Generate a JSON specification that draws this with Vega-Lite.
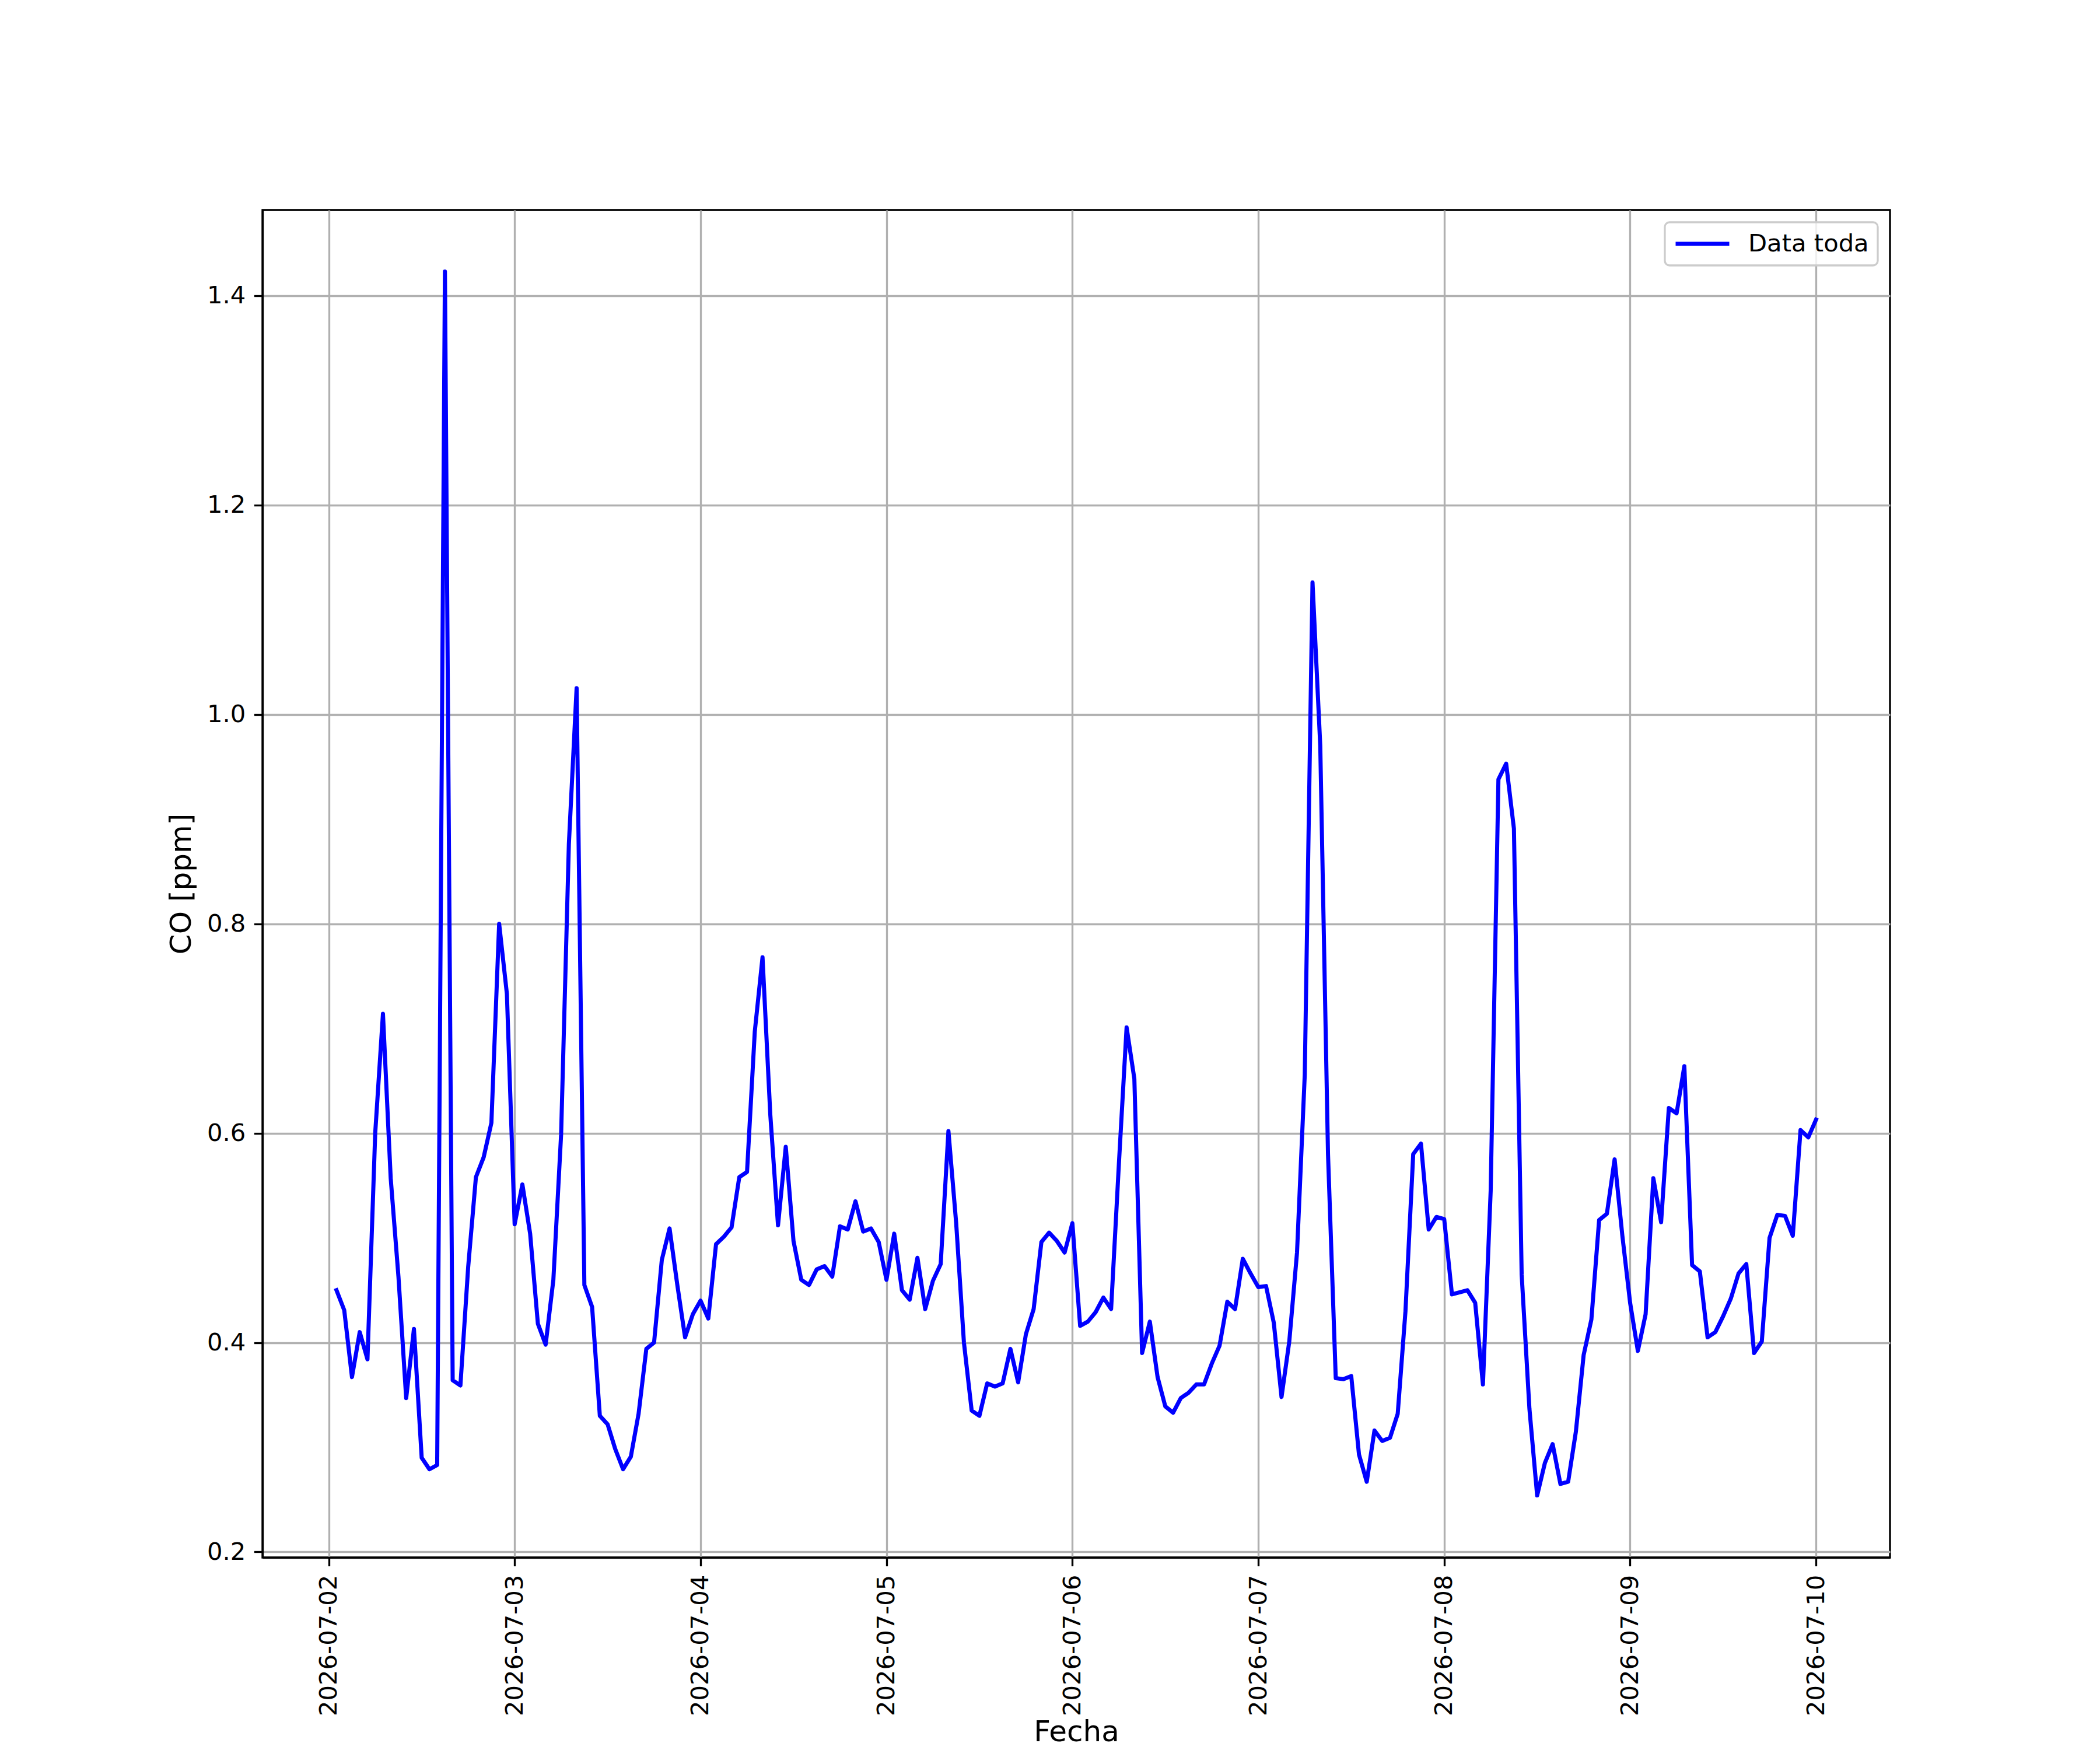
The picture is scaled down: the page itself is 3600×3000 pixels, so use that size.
{
  "$schema": "https://vega.github.io/schema/vega-lite/v6.json",
  "description": "Serie horaria de CO, Data toda",
  "width": 2790,
  "height": 2310,
  "autosize": {"type": "none"},
  "padding": {"left": 450, "top": 360, "right": 360, "bottom": 330},
  "background": "white",
  "config": {
    "font": "DejaVu Sans",
    "view": {"stroke": "black", "strokeWidth": 3.33},
    "axis": {
      "labelFontSize": 41.7,
      "titleFontSize": 50,
      "titleFontWeight": "normal",
      "labelColor": "black",
      "titleColor": "black",
      "tickColor": "black",
      "tickSize": 14.6,
      "tickWidth": 3.33,
      "domainColor": "black",
      "domainWidth": 3.33,
      "gridColor": "#b0b0b0",
      "gridWidth": 3.33,
      "labelPadding": 14.6,
      "labelOverlap": false,
      "labelFlush": false,
      "labelLimit": 0
    },
    "legend": {
      "labelFontSize": 41.7,
      "labelColor": "black",
      "labelLimit": 0,
      "strokeColor": "#cccccc",
      "strokeWidth": 3.3,
      "fillColor": "rgba(255,255,255,0.8)",
      "cornerRadius": 8,
      "padding": 15
    }
  },
  "data": {
    "values": [
      {"t": "2026-07-02T01:00", "co": 0.450},
      {"t": "2026-07-02T02:00", "co": 0.431},
      {"t": "2026-07-02T03:00", "co": 0.367},
      {"t": "2026-07-02T04:00", "co": 0.410},
      {"t": "2026-07-02T05:00", "co": 0.384},
      {"t": "2026-07-02T06:00", "co": 0.600},
      {"t": "2026-07-02T07:00", "co": 0.714},
      {"t": "2026-07-02T08:00", "co": 0.557},
      {"t": "2026-07-02T09:00", "co": 0.463},
      {"t": "2026-07-02T10:00", "co": 0.347},
      {"t": "2026-07-02T11:00", "co": 0.413},
      {"t": "2026-07-02T12:00", "co": 0.290},
      {"t": "2026-07-02T13:00", "co": 0.279},
      {"t": "2026-07-02T14:00", "co": 0.283},
      {"t": "2026-07-02T15:00", "co": 1.423},
      {"t": "2026-07-02T16:00", "co": 0.364},
      {"t": "2026-07-02T17:00", "co": 0.359},
      {"t": "2026-07-02T18:00", "co": 0.472},
      {"t": "2026-07-02T19:00", "co": 0.558},
      {"t": "2026-07-02T20:00", "co": 0.577},
      {"t": "2026-07-02T21:00", "co": 0.610},
      {"t": "2026-07-02T22:00", "co": 0.800},
      {"t": "2026-07-02T23:00", "co": 0.733},
      {"t": "2026-07-03T00:00", "co": 0.513},
      {"t": "2026-07-03T01:00", "co": 0.551},
      {"t": "2026-07-03T02:00", "co": 0.504},
      {"t": "2026-07-03T03:00", "co": 0.418},
      {"t": "2026-07-03T04:00", "co": 0.398},
      {"t": "2026-07-03T05:00", "co": 0.460},
      {"t": "2026-07-03T06:00", "co": 0.599},
      {"t": "2026-07-03T07:00", "co": 0.876},
      {"t": "2026-07-03T08:00", "co": 1.025},
      {"t": "2026-07-03T09:00", "co": 0.455},
      {"t": "2026-07-03T10:00", "co": 0.434},
      {"t": "2026-07-03T11:00", "co": 0.330},
      {"t": "2026-07-03T12:00", "co": 0.322},
      {"t": "2026-07-03T13:00", "co": 0.298},
      {"t": "2026-07-03T14:00", "co": 0.279},
      {"t": "2026-07-03T15:00", "co": 0.291},
      {"t": "2026-07-03T16:00", "co": 0.332},
      {"t": "2026-07-03T17:00", "co": 0.394},
      {"t": "2026-07-03T18:00", "co": 0.400},
      {"t": "2026-07-03T19:00", "co": 0.479},
      {"t": "2026-07-03T20:00", "co": 0.509},
      {"t": "2026-07-03T21:00", "co": 0.455},
      {"t": "2026-07-03T22:00", "co": 0.405},
      {"t": "2026-07-03T23:00", "co": 0.427},
      {"t": "2026-07-04T00:00", "co": 0.440},
      {"t": "2026-07-04T01:00", "co": 0.423},
      {"t": "2026-07-04T02:00", "co": 0.494},
      {"t": "2026-07-04T03:00", "co": 0.501},
      {"t": "2026-07-04T04:00", "co": 0.510},
      {"t": "2026-07-04T05:00", "co": 0.558},
      {"t": "2026-07-04T06:00", "co": 0.563},
      {"t": "2026-07-04T07:00", "co": 0.697},
      {"t": "2026-07-04T08:00", "co": 0.768},
      {"t": "2026-07-04T09:00", "co": 0.618},
      {"t": "2026-07-04T10:00", "co": 0.512},
      {"t": "2026-07-04T11:00", "co": 0.587},
      {"t": "2026-07-04T12:00", "co": 0.497},
      {"t": "2026-07-04T13:00", "co": 0.460},
      {"t": "2026-07-04T14:00", "co": 0.455},
      {"t": "2026-07-04T15:00", "co": 0.470},
      {"t": "2026-07-04T16:00", "co": 0.473},
      {"t": "2026-07-04T17:00", "co": 0.463},
      {"t": "2026-07-04T18:00", "co": 0.511},
      {"t": "2026-07-04T19:00", "co": 0.508},
      {"t": "2026-07-04T20:00", "co": 0.535},
      {"t": "2026-07-04T21:00", "co": 0.506},
      {"t": "2026-07-04T22:00", "co": 0.509},
      {"t": "2026-07-04T23:00", "co": 0.496},
      {"t": "2026-07-05T00:00", "co": 0.460},
      {"t": "2026-07-05T01:00", "co": 0.504},
      {"t": "2026-07-05T02:00", "co": 0.450},
      {"t": "2026-07-05T03:00", "co": 0.441},
      {"t": "2026-07-05T04:00", "co": 0.481},
      {"t": "2026-07-05T05:00", "co": 0.432},
      {"t": "2026-07-05T06:00", "co": 0.459},
      {"t": "2026-07-05T07:00", "co": 0.475},
      {"t": "2026-07-05T08:00", "co": 0.602},
      {"t": "2026-07-05T09:00", "co": 0.514},
      {"t": "2026-07-05T10:00", "co": 0.400},
      {"t": "2026-07-05T11:00", "co": 0.335},
      {"t": "2026-07-05T12:00", "co": 0.330},
      {"t": "2026-07-05T13:00", "co": 0.361},
      {"t": "2026-07-05T14:00", "co": 0.358},
      {"t": "2026-07-05T15:00", "co": 0.361},
      {"t": "2026-07-05T16:00", "co": 0.394},
      {"t": "2026-07-05T17:00", "co": 0.362},
      {"t": "2026-07-05T18:00", "co": 0.408},
      {"t": "2026-07-05T19:00", "co": 0.432},
      {"t": "2026-07-05T20:00", "co": 0.496},
      {"t": "2026-07-05T21:00", "co": 0.505},
      {"t": "2026-07-05T22:00", "co": 0.497},
      {"t": "2026-07-05T23:00", "co": 0.486},
      {"t": "2026-07-06T00:00", "co": 0.514},
      {"t": "2026-07-06T01:00", "co": 0.416},
      {"t": "2026-07-06T02:00", "co": 0.420},
      {"t": "2026-07-06T03:00", "co": 0.429},
      {"t": "2026-07-06T04:00", "co": 0.443},
      {"t": "2026-07-06T05:00", "co": 0.432},
      {"t": "2026-07-06T06:00", "co": 0.570},
      {"t": "2026-07-06T07:00", "co": 0.701},
      {"t": "2026-07-06T08:00", "co": 0.652},
      {"t": "2026-07-06T09:00", "co": 0.390},
      {"t": "2026-07-06T10:00", "co": 0.420},
      {"t": "2026-07-06T11:00", "co": 0.367},
      {"t": "2026-07-06T12:00", "co": 0.339},
      {"t": "2026-07-06T13:00", "co": 0.333},
      {"t": "2026-07-06T14:00", "co": 0.347},
      {"t": "2026-07-06T15:00", "co": 0.352},
      {"t": "2026-07-06T16:00", "co": 0.360},
      {"t": "2026-07-06T17:00", "co": 0.360},
      {"t": "2026-07-06T18:00", "co": 0.380},
      {"t": "2026-07-06T19:00", "co": 0.397},
      {"t": "2026-07-06T20:00", "co": 0.439},
      {"t": "2026-07-06T21:00", "co": 0.432},
      {"t": "2026-07-06T22:00", "co": 0.480},
      {"t": "2026-07-06T23:00", "co": 0.466},
      {"t": "2026-07-07T00:00", "co": 0.453},
      {"t": "2026-07-07T01:00", "co": 0.454},
      {"t": "2026-07-07T02:00", "co": 0.419},
      {"t": "2026-07-07T03:00", "co": 0.348},
      {"t": "2026-07-07T04:00", "co": 0.401},
      {"t": "2026-07-07T05:00", "co": 0.486},
      {"t": "2026-07-07T06:00", "co": 0.656},
      {"t": "2026-07-07T07:00", "co": 1.126},
      {"t": "2026-07-07T08:00", "co": 0.970},
      {"t": "2026-07-07T09:00", "co": 0.580},
      {"t": "2026-07-07T10:00", "co": 0.366},
      {"t": "2026-07-07T11:00", "co": 0.365},
      {"t": "2026-07-07T12:00", "co": 0.368},
      {"t": "2026-07-07T13:00", "co": 0.293},
      {"t": "2026-07-07T14:00", "co": 0.267},
      {"t": "2026-07-07T15:00", "co": 0.316},
      {"t": "2026-07-07T16:00", "co": 0.306},
      {"t": "2026-07-07T17:00", "co": 0.309},
      {"t": "2026-07-07T18:00", "co": 0.332},
      {"t": "2026-07-07T19:00", "co": 0.430},
      {"t": "2026-07-07T20:00", "co": 0.580},
      {"t": "2026-07-07T21:00", "co": 0.590},
      {"t": "2026-07-07T22:00", "co": 0.508},
      {"t": "2026-07-07T23:00", "co": 0.520},
      {"t": "2026-07-08T00:00", "co": 0.518},
      {"t": "2026-07-08T01:00", "co": 0.446},
      {"t": "2026-07-08T02:00", "co": 0.448},
      {"t": "2026-07-08T03:00", "co": 0.450},
      {"t": "2026-07-08T04:00", "co": 0.438},
      {"t": "2026-07-08T05:00", "co": 0.360},
      {"t": "2026-07-08T06:00", "co": 0.545},
      {"t": "2026-07-08T07:00", "co": 0.938},
      {"t": "2026-07-08T08:00", "co": 0.953},
      {"t": "2026-07-08T09:00", "co": 0.891},
      {"t": "2026-07-08T10:00", "co": 0.465},
      {"t": "2026-07-08T11:00", "co": 0.337},
      {"t": "2026-07-08T12:00", "co": 0.254},
      {"t": "2026-07-08T13:00", "co": 0.285},
      {"t": "2026-07-08T14:00", "co": 0.303},
      {"t": "2026-07-08T15:00", "co": 0.265},
      {"t": "2026-07-08T16:00", "co": 0.267},
      {"t": "2026-07-08T17:00", "co": 0.315},
      {"t": "2026-07-08T18:00", "co": 0.388},
      {"t": "2026-07-08T19:00", "co": 0.422},
      {"t": "2026-07-08T20:00", "co": 0.517},
      {"t": "2026-07-08T21:00", "co": 0.523},
      {"t": "2026-07-08T22:00", "co": 0.575},
      {"t": "2026-07-08T23:00", "co": 0.502},
      {"t": "2026-07-09T00:00", "co": 0.438},
      {"t": "2026-07-09T01:00", "co": 0.392},
      {"t": "2026-07-09T02:00", "co": 0.427},
      {"t": "2026-07-09T03:00", "co": 0.557},
      {"t": "2026-07-09T04:00", "co": 0.515},
      {"t": "2026-07-09T05:00", "co": 0.624},
      {"t": "2026-07-09T06:00", "co": 0.619},
      {"t": "2026-07-09T07:00", "co": 0.664},
      {"t": "2026-07-09T08:00", "co": 0.474},
      {"t": "2026-07-09T09:00", "co": 0.468},
      {"t": "2026-07-09T10:00", "co": 0.405},
      {"t": "2026-07-09T11:00", "co": 0.410},
      {"t": "2026-07-09T12:00", "co": 0.425},
      {"t": "2026-07-09T13:00", "co": 0.442},
      {"t": "2026-07-09T14:00", "co": 0.466},
      {"t": "2026-07-09T15:00", "co": 0.475},
      {"t": "2026-07-09T16:00", "co": 0.390},
      {"t": "2026-07-09T17:00", "co": 0.401},
      {"t": "2026-07-09T18:00", "co": 0.500},
      {"t": "2026-07-09T19:00", "co": 0.522},
      {"t": "2026-07-09T20:00", "co": 0.521},
      {"t": "2026-07-09T21:00", "co": 0.502},
      {"t": "2026-07-09T22:00", "co": 0.603},
      {"t": "2026-07-09T23:00", "co": 0.596},
      {"t": "2026-07-10T00:00", "co": 0.613}
    ]
  },
  "mark": {
    "type": "line",
    "strokeWidth": 7,
    "strokeJoin": "round",
    "strokeCap": "square"
  },
  "encoding": {
    "x": {
      "field": "t",
      "type": "temporal",
      "title": "Fecha",
      "scale": {
        "domain": [
          {"year": 2026, "month": 7, "date": 1, "hours": 15, "minutes": 27},
          {"year": 2026, "month": 7, "date": 10, "hours": 9, "minutes": 33}
        ],
        "nice": false
      },
      "axis": {
        "values": [
          {"year": 2026, "month": 7, "date": 2},
          {"year": 2026, "month": 7, "date": 3},
          {"year": 2026, "month": 7, "date": 4},
          {"year": 2026, "month": 7, "date": 5},
          {"year": 2026, "month": 7, "date": 6},
          {"year": 2026, "month": 7, "date": 7},
          {"year": 2026, "month": 7, "date": 8},
          {"year": 2026, "month": 7, "date": 9},
          {"year": 2026, "month": 7, "date": 10}
        ],
        "format": "%Y-%m-%d",
        "labelAngle": 270,
        "labelAlign": "right",
        "labelBaseline": "middle",
        "titleBaseline": "alphabetic",
        "titleY": 314
      }
    },
    "y": {
      "field": "co",
      "type": "quantitative",
      "title": "CO [ppm]",
      "scale": {"domain": [0.1947, 1.4818], "nice": false, "zero": false},
      "axis": {
        "values": [0.2, 0.4, 0.6, 0.8, 1.0, 1.2, 1.4],
        "format": ".1f",
        "titlePadding": 18
      }
    },
    "color": {
      "datum": "Data toda",
      "type": "nominal",
      "scale": {"range": ["#0000ff"]},
      "legend": {
        "title": null,
        "orient": "top-right",
        "offset": 21,
        "symbolType": "stroke",
        "symbolSize": 8464,
        "symbolStrokeWidth": 7,
        "labelOffset": 29,
        "clipHeight": 44
      }
    }
  }
}
